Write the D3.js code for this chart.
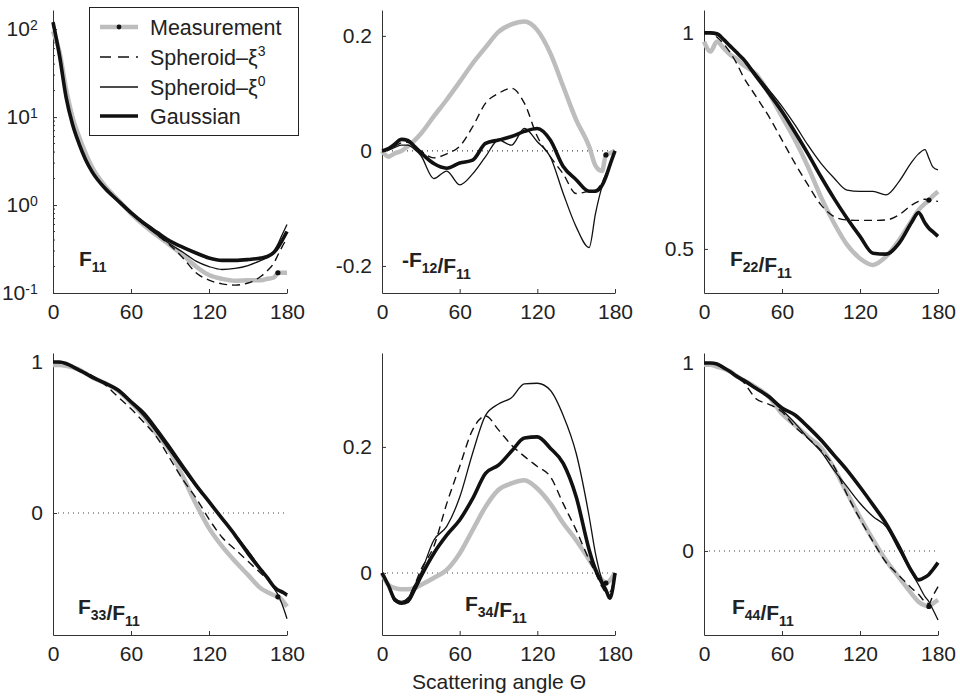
<!DOCTYPE html>
<html>
<head>
<meta charset="utf-8">
<style>
  body { margin: 0; background: #fff; }
  svg text { font-family: "Liberation Sans", Arial, sans-serif; fill: #222; }
  .axis path, .axis line { stroke: #333; stroke-width: 1; }
</style>
</head>
<body>
<script src="https://cdn.jsdelivr.net/npm/d3@7"></script>
<script>
// scattering angles (deg) shared by every curve
const angles = [0,5,10,15,20,25,30,40,50,60,70,80,90,100,110,120,130,140,150,160,165,170,173,176,180];
const xTicks = [0, 60, 120, 180];

// F11 (log scale)
const f11Meas  = [95,55,21,10,6.0,3.9,2.7,1.65,1.15,0.8,0.59,0.45,0.35,0.27,0.2,0.16,0.145,0.138,0.14,0.14,0.145,0.15,0.17,0.17,0.17];
const f11Sph3  = [115,48,16.5,8.2,5.0,3.3,2.4,1.55,1.1,0.8,0.6,0.46,0.35,0.25,0.17,0.14,0.127,0.123,0.13,0.155,0.18,0.22,0.27,0.33,0.42];
const f11Sph0  = [115,48,16.5,8.2,5.0,3.3,2.4,1.55,1.1,0.8,0.6,0.46,0.36,0.29,0.23,0.2,0.185,0.19,0.205,0.235,0.255,0.3,0.36,0.45,0.6];
const f11Gauss = [120,50,17,8.3,5.0,3.3,2.4,1.55,1.12,0.82,0.62,0.49,0.39,0.33,0.285,0.25,0.235,0.235,0.24,0.25,0.26,0.29,0.33,0.39,0.5];

// -F12/F11
const f12Meas  = [0,-0.01,-0.004,0,0.008,0.018,0.03,0.06,0.089,0.12,0.152,0.18,0.207,0.22,0.225,0.21,0.17,0.112,0.054,0.008,-0.026,-0.035,-0.007,-0.004,0];
const f12Sph3  = [0,0.002,0.008,0.014,0.015,0.008,0,-0.012,-0.005,0.008,0.042,0.083,0.1,0.109,0.083,0.025,-0.01,-0.04,-0.074,-0.07,-0.068,-0.055,-0.04,-0.025,0];
const f12Sph0  = [0,0.002,0.006,0.01,0.01,0.003,-0.008,-0.048,-0.035,-0.059,-0.04,-0.01,0.019,0.01,0.039,0.016,-0.01,-0.074,-0.132,-0.168,-0.108,-0.062,-0.045,-0.025,0];
const f12Gauss = [0,0.004,0.012,0.02,0.018,0.008,-0.003,-0.022,-0.03,-0.021,-0.016,0.013,0.019,0.025,0.034,0.039,0.019,-0.027,-0.05,-0.07,-0.07,-0.06,-0.045,-0.025,0];

// F22/F11
const f22Meas  = [0.98,0.957,0.98,0.965,0.95,0.94,0.926,0.905,0.86,0.806,0.752,0.69,0.62,0.56,0.51,0.478,0.463,0.482,0.52,0.567,0.59,0.605,0.613,0.622,0.633];
const f22Sph3  = [1,0.999,0.99,0.975,0.955,0.93,0.9,0.853,0.806,0.752,0.698,0.648,0.602,0.575,0.567,0.566,0.566,0.567,0.579,0.602,0.61,0.615,0.613,0.612,0.61];
const f22Sph0  = [1,0.999,0.995,0.985,0.97,0.955,0.94,0.905,0.868,0.83,0.787,0.74,0.698,0.664,0.636,0.633,0.633,0.625,0.656,0.702,0.72,0.73,0.71,0.69,0.683];
const f22Gauss = [1,1,0.998,0.985,0.97,0.955,0.94,0.9,0.86,0.818,0.77,0.72,0.667,0.617,0.571,0.529,0.49,0.488,0.513,0.563,0.584,0.56,0.548,0.54,0.529];

// F33/F11
const f33Meas  = [0.98,0.98,0.975,0.965,0.95,0.925,0.9,0.86,0.81,0.73,0.64,0.52,0.41,0.24,0.06,-0.1,-0.22,-0.32,-0.41,-0.5,-0.525,-0.545,-0.555,-0.575,-0.62];
const f33Sph3  = [1,0.995,0.985,0.97,0.95,0.93,0.91,0.85,0.77,0.69,0.6,0.5,0.36,0.22,0.1,-0.04,-0.16,-0.24,-0.32,-0.4,-0.44,-0.49,-0.515,-0.53,-0.55];
const f33Sph0  = [1,1,0.99,0.97,0.947,0.925,0.9,0.86,0.81,0.73,0.64,0.53,0.41,0.29,0.175,0.07,-0.03,-0.14,-0.25,-0.37,-0.43,-0.5,-0.54,-0.6,-0.7];
const f33Gauss = [1,1,0.99,0.97,0.947,0.925,0.9,0.86,0.815,0.737,0.66,0.55,0.43,0.307,0.185,0.075,-0.035,-0.146,-0.267,-0.377,-0.43,-0.488,-0.51,-0.52,-0.543];

// F34/F11
const f34Meas  = [0,-0.019,-0.024,-0.026,-0.026,-0.024,-0.019,-0.008,0.005,0.031,0.068,0.105,0.132,0.142,0.147,0.134,0.11,0.079,0.052,0.021,0.005,-0.011,-0.016,-0.012,0];
const f34Sph3  = [0,-0.02,-0.045,-0.047,-0.04,-0.02,0.005,0.042,0.11,0.169,0.227,0.249,0.227,0.203,0.185,0.169,0.153,0.11,0.068,0.021,0,-0.022,-0.03,-0.03,0];
const f34Sph0  = [0,-0.02,-0.04,-0.045,-0.04,-0.02,0,0.052,0.074,0.12,0.19,0.25,0.268,0.278,0.3,0.301,0.29,0.25,0.19,0.09,0.03,-0.011,-0.025,-0.035,0];
const f34Gauss = [0,-0.02,-0.043,-0.048,-0.045,-0.027,-0.006,0.031,0.06,0.084,0.118,0.158,0.171,0.193,0.214,0.216,0.198,0.174,0.121,0.037,0.005,-0.016,-0.027,-0.04,0];

// F44/F11
const f44Meas  = [0.99,0.99,0.98,0.97,0.955,0.93,0.91,0.87,0.82,0.73,0.67,0.608,0.55,0.44,0.31,0.18,0.06,-0.05,-0.14,-0.23,-0.27,-0.29,-0.295,-0.28,-0.26];
const f44Sph3  = [1,0.998,0.99,0.97,0.95,0.925,0.9,0.81,0.78,0.74,0.66,0.6,0.535,0.45,0.3,0.17,0.05,-0.06,-0.13,-0.2,-0.23,-0.27,-0.28,-0.24,-0.19];
const f44Sph0  = [1,1,0.995,0.975,0.954,0.93,0.91,0.86,0.82,0.75,0.68,0.6,0.528,0.43,0.342,0.254,0.183,0.13,0.005,-0.119,-0.18,-0.243,-0.27,-0.31,-0.367];
const f44Gauss = [1,1,0.995,0.975,0.954,0.93,0.91,0.865,0.82,0.76,0.723,0.66,0.59,0.51,0.43,0.34,0.245,0.147,0.023,-0.11,-0.154,-0.14,-0.125,-0.1,-0.062];

const legendNames = ["Measurement", "Spheroid\u2013\u03BE", "Spheroid\u2013\u03BE", "Gaussian"];
const legendSup = ["", "3", "0", ""];

// line styles
const styles = {
  meas:  { stroke: "#bdbdbd", width: 4.5, dash: null },
  sph3:  { stroke: "#111", width: 1.4, dash: "8,5" },
  sph0:  { stroke: "#111", width: 1.3, dash: null },
  gauss: { stroke: "#111", width: 3.6, dash: null }
};

const W = 960, H = 696;
const svg = d3.select("body").append("svg").attr("width", W).attr("height", H);

const panels = [
  { left: 53, right: 287, top: 10, bottom: 293, log: true, domain: [0.1, 165], ticks: [0.1, 1, 10, 100],
    label: [["F", "11"]], lx: 79, ly: 266, zero: false,
    data: { meas: f11Meas, sph3: f11Sph3, sph0: f11Sph0, gauss: f11Gauss } },
  { left: 382, right: 615, top: 10, bottom: 293, domain: [-0.247, 0.245], ticks: [-0.2, 0, 0.2],
    label: [["-F", "12"], ["/F", "11"]], lx: 402, ly: 267, zero: true,
    data: { meas: f12Meas, sph3: f12Sph3, sph0: f12Sph0, gauss: f12Gauss } },
  { left: 704, right: 938, top: 10, bottom: 293, domain: [0.398, 1.053], ticks: [0.5, 1],
    label: [["F", "22"], ["/F", "11"]], lx: 730, ly: 266, zero: false,
    data: { meas: f22Meas, sph3: f22Sph3, sph0: f22Sph0, gauss: f22Gauss } },
  { left: 53, right: 287, top: 353, bottom: 635, domain: [-0.808, 1.06], ticks: [0, 1],
    label: [["F", "33"], ["/F", "11"]], lx: 78, ly: 614, zero: true,
    data: { meas: f33Meas, sph3: f33Sph3, sph0: f33Sph0, gauss: f33Gauss } },
  { left: 382, right: 615, top: 353, bottom: 635, domain: [-0.0984, 0.349], ticks: [0, 0.2],
    label: [["F", "34"], ["/F", "11"]], lx: 465, ly: 611, zero: true,
    data: { meas: f34Meas, sph3: f34Sph3, sph0: f34Sph0, gauss: f34Gauss } },
  { left: 704, right: 938, top: 353, bottom: 635, domain: [-0.447, 1.053], ticks: [0, 1],
    label: [["F", "44"], ["/F", "11"]], lx: 732, ly: 614, zero: true,
    data: { meas: f44Meas, sph3: f44Sph3, sph0: f44Sph0, gauss: f44Gauss } }
];

// plain hyphen for negatives, like the original figure
const fmtNum = d => (d === 0 ? "0" : String(+d.toFixed(2)));

panels.forEach(p => {
  const x = d3.scaleLinear().domain([0, 180]).range([p.left, p.right]);
  const y = (p.log ? d3.scaleLog() : d3.scaleLinear()).domain(p.domain).range([p.bottom, p.top]);
  const g = svg.append("g");

  // zero reference
  if (p.zero) {
    g.append("line")
      .attr("x1", x(0)).attr("x2", x(180))
      .attr("y1", y(0)).attr("y2", y(0))
      .attr("stroke", "#444").attr("stroke-width", 1.1)
      .attr("stroke-dasharray", "1,4");
  }

  // axes, ticks pointing inwards
  const xAxis = d3.axisBottom(x).tickValues(xTicks).tickSizeInner(-4).tickSizeOuter(0).tickPadding(11);
  const gx = g.append("g").attr("class", "axis").attr("transform", `translate(0,${p.bottom})`).call(xAxis);
  gx.selectAll("text").attr("font-size", 21);

  const yAxis = d3.axisLeft(y).tickValues(p.ticks).tickSizeInner(-4).tickSizeOuter(0).tickPadding(10)
    .tickFormat(p.log ? () => "" : fmtNum);
  const gy = g.append("g").attr("class", "axis").attr("transform", `translate(${p.left},0)`).call(yAxis);
  gy.selectAll("text").attr("font-size", 21);

  if (p.log) {
    gy.selectAll(".tick text").each(function (d) {
      const t = d3.select(this);
      t.attr("dx", "-0.25em");
      t.append("tspan").text("10");
      t.append("tspan").attr("dy", "-0.45em").attr("font-size", 14).text(Math.round(Math.log10(d)));
    });
    // minor log ticks
    const minor = [];
    [0.1, 1, 10].forEach(dec => { for (let k = 2; k <= 9; k++) minor.push(dec * k); });
    g.selectAll(".minor").data(minor).enter().append("line")
      .attr("x1", p.left).attr("x2", p.left + 2)
      .attr("y1", d => y(d)).attr("y2", d => y(d))
      .attr("stroke", "#333").attr("stroke-width", 1);
  }

  // curves
  const line = d3.line()
    .x((d, i) => x(angles[i]))
    .y(d => y(d))
    .curve(d3.curveMonotoneX);

  ["meas", "sph3", "sph0", "gauss"].forEach(k => {
    const s = styles[k];
    g.append("path")
      .datum(p.data[k])
      .attr("d", line)
      .attr("fill", "none")
      .attr("stroke", s.stroke)
      .attr("stroke-width", s.width)
      .attr("stroke-linejoin", "round")
      .attr("stroke-dasharray", s.dash);
  });

  // black marker on the measurement curve
  const mi = angles.indexOf(173);
  g.append("circle")
    .attr("cx", x(angles[mi])).attr("cy", y(p.data.meas[mi]))
    .attr("r", 2.6).attr("fill", "#111");

  // panel label
  const lt = g.append("text").attr("x", p.lx).attr("y", p.ly).attr("font-weight", "bold").attr("font-size", 21);
  p.label.forEach(([main, sub]) => {
    lt.append("tspan").attr("dy", 0).text(main);
    lt.append("tspan").attr("font-size", 14).attr("dy", 6).text(sub);
    lt.append("tspan").attr("dy", -6).text("");
  });
});

// legend in the first panel
const lg = svg.append("g");
lg.append("rect").attr("x", 89.5).attr("y", 7.5).attr("width", 209).attr("height", 128)
  .attr("fill", "#fff").attr("stroke", "#222").attr("stroke-width", 1);
const rowY = [27, 57, 87, 116];
const legendKeys = ["meas", "sph3", "sph0", "gauss"];
legendKeys.forEach((k, i) => {
  const s = styles[k];
  lg.append("line")
    .attr("x1", 100).attr("x2", 138).attr("y1", rowY[i]).attr("y2", rowY[i])
    .attr("stroke", s.stroke).attr("stroke-width", s.width)
    .attr("stroke-dasharray", k === "sph3" ? "11,7" : s.dash);
  if (k === "meas") {
    lg.append("circle").attr("cx", 119).attr("cy", rowY[i]).attr("r", 2.4).attr("fill", "#111");
  }
  const t = lg.append("text").attr("x", 150).attr("y", rowY[i] + 7.5).attr("font-size", 21.5);
  t.append("tspan").text(legendNames[i]);
  if (legendSup[i]) t.append("tspan").attr("dy", -9).attr("font-size", 14).text(legendSup[i]);
});

// shared x label
svg.append("text")
  .attr("x", 499).attr("y", 689)
  .attr("text-anchor", "middle")
  .attr("font-size", 21)
  .text("Scattering angle \u0398");
</script>
</body>
</html>
